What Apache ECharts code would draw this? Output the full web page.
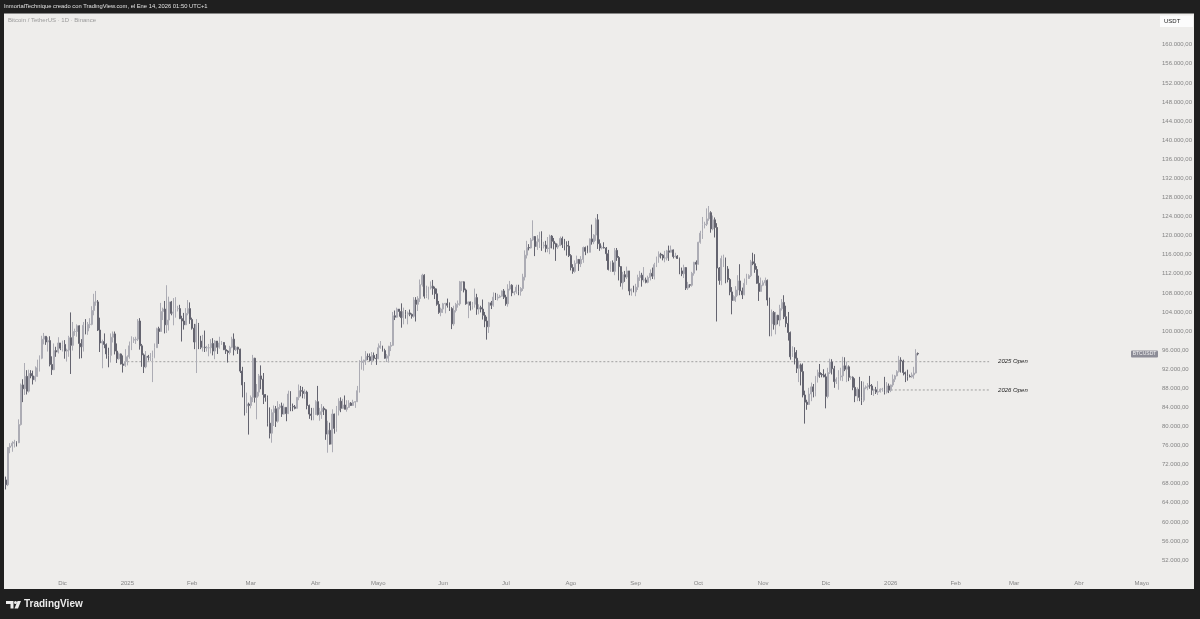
<!DOCTYPE html>
<html><head><meta charset="utf-8">
<script src="https://cdn.jsdelivr.net/npm/echarts@6/dist/echarts.min.js"></script>
<style>html,body{margin:0;padding:0;background:#1f1f1f;}#c{width:1200px;height:619px;}</style>
</head><body><div id="c"></div>
<script>
// BTCUSDT daily candles (values in thousands of USDT), 2024-11-04 .. 2026-01-14
const firstOpen = 68.8;
const closes = [
// Nov 2024 (from 4th)
67.8,75.6,75.9,76.5,76.7,76.6,80.4,88.7,87.9,90.5,87.4,91.1,90.6,89.8,90.5,92.3,94.3,98.3,98.9,97.7,98.0,93.0,91.9,95.9,95.6,97.5,96.4,
// Dec 2024
97.2,95.8,96.0,98.6,97.0,99.9,99.9,101.1,97.4,96.7,101.2,100.0,101.4,101.4,104.3,106.1,106.1,100.2,97.5,97.8,97.2,95.2,94.9,98.7,99.4,95.8,94.2,95.2,93.1,92.8,93.6,
// Jan 2025
94.6,96.9,98.1,98.2,98.3,102.1,96.9,95.0,92.5,94.7,94.5,94.5,94.5,96.5,100.5,99.9,104.1,104.6,101.3,102.3,106.1,103.7,104.0,104.7,104.7,102.6,102.1,101.3,103.7,104.7,102.4,
// Feb 2025
100.6,97.7,101.4,97.9,96.6,96.6,96.5,96.5,96.5,97.4,95.8,97.9,96.6,97.5,97.6,96.1,95.8,95.5,96.6,98.3,96.1,96.6,96.2,91.6,88.7,84.3,84.7,84.4,
// Mar 2025
86.1,94.3,86.1,87.2,90.6,89.9,86.7,86.1,80.7,78.6,82.9,83.7,81.1,84.0,84.3,82.6,84.0,82.7,86.8,84.2,84.1,83.8,86.1,87.5,87.4,86.9,87.2,84.4,82.6,82.3,82.5,
// Apr 2025
85.2,82.5,83.1,83.8,83.5,78.4,79.2,76.3,82.6,79.6,83.4,85.3,83.8,84.5,83.6,84.0,84.9,84.4,85.1,85.2,87.5,93.4,93.7,93.9,94.7,94.6,93.8,94.9,94.3,94.2,
// May 2025
96.5,96.9,95.9,94.3,94.8,96.8,97.0,103.2,102.9,104.6,104.1,102.8,104.1,103.5,103.8,103.5,103.1,106.5,105.6,106.8,109.7,111.7,107.3,107.8,109.0,109.4,108.9,107.8,105.6,103.9,104.6,
// Jun 2025
105.7,105.8,105.4,104.7,101.5,104.3,105.6,105.7,110.3,110.3,108.6,105.7,106.1,105.4,105.6,107.0,104.6,104.9,104.6,103.3,102.1,100.9,105.9,105.4,107.1,106.9,107.1,107.3,108.4,107.1,
// Jul 2025
105.7,108.8,109.6,108.0,108.2,109.2,108.3,108.9,111.3,115.9,117.5,117.4,119.1,119.8,117.7,118.7,119.3,117.8,118.0,117.3,117.4,119.9,118.8,118.3,117.6,117.9,119.4,118.1,117.9,117.8,115.8,
// Aug 2025
113.3,112.5,114.2,115.0,114.1,115.0,117.5,116.7,116.5,119.3,118.7,120.1,123.3,118.3,117.4,117.5,117.4,116.2,112.9,114.3,112.5,116.9,115.4,113.5,110.1,111.8,111.3,112.6,108.4,108.8,108.2,
// Sep 2025
109.2,111.2,111.7,110.7,110.7,110.2,111.2,112.1,111.5,113.9,115.5,116.1,115.9,115.3,115.3,116.8,116.5,117.0,115.6,115.7,115.2,112.6,112.0,113.3,109.0,109.7,109.6,112.1,114.4,114.0,
// Oct 2025
118.6,120.5,122.3,122.4,123.5,124.8,121.4,123.3,121.7,113.2,110.6,115.2,115.3,113.0,110.8,108.2,106.4,107.2,108.6,110.5,108.4,107.6,110.0,111.0,111.6,114.5,114.1,112.9,110.0,108.3,109.6,
// Nov 2025
110.1,110.6,106.5,101.5,103.9,101.3,103.3,102.3,104.7,106.0,103.0,101.6,99.7,94.6,95.5,94.3,92.2,92.9,91.5,86.6,85.1,84.6,86.8,88.3,87.3,90.5,91.3,90.9,90.8,90.4,
// Dec 2025
86.3,91.3,93.5,92.1,89.4,89.9,90.4,90.6,92.7,92.0,92.5,90.3,90.3,88.2,86.4,87.8,86.1,85.5,88.1,88.3,88.6,88.5,87.6,87.7,87.2,87.3,87.8,87.8,87.2,88.5,87.6,
// Jan 2026
88.7,89.9,90.6,91.5,93.9,93.7,91.3,91.0,90.5,90.4,90.8,91.2,95.3,95.2
];
const highs = [
69.5,75.7,76.5,76.9,77.2,76.9,81.5,89.0,89.9,93.3,91.8,91.9,91.8,91.7,92.6,94.0,94.9,99.0,99.6,98.9,98.7,98.9,94.7,97.4,96.7,98.7,97.5,
98.0,98.1,96.3,99.0,103.9,101.9,100.5,101.4,101.2,98.3,101.9,102.5,101.9,102.7,105.2,107.8,108.4,106.5,102.8,98.2,99.5,97.4,96.5,99.5,99.9,99.9,97.4,95.5,95.3,94.9,96.2,
94.9,97.8,98.9,98.7,98.8,102.5,102.7,97.3,95.3,95.8,95.0,95.4,95.9,97.4,100.7,100.9,105.9,104.9,106.3,109.6,107.2,106.3,106.9,107.1,105.3,105.5,103.2,103.8,104.8,106.5,106.0,
102.8,101.5,102.5,101.7,99.0,99.2,100.1,96.9,97.3,98.3,98.5,98.1,97.9,98.8,97.9,97.7,97.0,96.0,96.9,98.8,99.5,96.9,96.7,96.3,92.5,89.3,87.1,85.0,
86.5,95.0,94.4,88.9,91.0,92.8,91.2,86.8,86.5,84.0,83.6,84.4,84.3,85.3,84.7,85.0,84.8,84.0,87.5,87.4,84.8,84.5,86.1,88.8,88.5,88.3,87.8,87.5,84.6,83.9,83.9,
85.5,88.5,83.9,84.7,84.2,83.7,81.2,80.8,83.6,82.7,84.3,85.9,86.1,85.8,86.5,85.5,85.5,85.1,85.6,85.3,88.5,93.9,94.7,94.0,95.8,95.3,95.3,95.6,95.5,95.2,
97.4,97.9,96.9,96.3,95.2,96.9,97.7,104.0,104.3,104.9,104.6,105.8,104.9,104.4,104.1,104.5,103.7,107.1,107.1,107.3,110.8,112.0,111.9,109.5,109.3,110.4,110.7,109.3,108.9,106.3,104.9,
105.9,105.9,106.8,106.0,105.0,105.3,105.9,106.4,110.5,110.4,110.4,108.9,106.2,106.2,106.1,108.9,107.8,105.6,105.3,106.6,104.0,103.0,106.1,106.3,108.1,108.0,107.8,107.6,108.5,108.8,
107.6,109.8,110.5,109.8,108.4,109.7,109.7,109.2,112.0,116.9,118.9,118.2,119.5,123.2,119.9,120.1,120.8,120.9,118.7,118.9,119.7,120.2,120.1,119.5,118.5,118.3,119.8,119.8,119.3,118.8,118.9,
116.1,114.0,114.8,115.8,115.1,115.7,117.7,117.7,117.9,119.4,122.3,120.3,123.7,124.5,119.2,117.9,118.6,117.6,117.0,114.6,114.8,117.4,117.4,115.7,113.6,112.4,112.6,113.5,112.6,108.9,109.5,
109.9,111.8,112.6,112.2,113.4,111.2,111.6,112.9,113.3,114.3,115.6,116.7,116.4,116.1,116.8,117.0,117.9,117.9,117.1,116.4,115.9,115.4,113.3,113.9,113.4,110.3,109.8,112.4,114.5,114.8,
118.7,121.0,123.9,122.9,125.7,126.2,125.1,124.2,123.8,122.6,113.4,115.8,116.0,115.4,113.6,111.1,109.2,107.5,109.4,111.7,114.0,109.1,111.0,112.0,111.9,114.9,116.4,116.1,113.6,111.6,111.2,
110.6,111.2,110.8,107.0,104.5,104.2,104.0,103.4,105.5,106.7,107.5,105.3,104.0,99.9,96.8,96.6,96.0,93.8,93.2,93.2,87.5,85.6,88.1,89.2,88.9,90.6,91.9,93.1,91.2,92.0,
91.1,92.3,94.2,94.1,92.7,90.3,91.8,92.3,94.6,94.5,93.6,92.8,90.6,90.5,90.1,88.2,90.4,89.5,89.4,88.6,89.1,90.6,88.9,87.9,88.3,89.5,88.0,88.1,90.4,89.3,89.0,
88.8,90.9,90.8,91.8,94.8,94.5,94.0,91.5,91.9,90.9,91.3,92.5,96.2,95.5
];
const lows = [
66.8,67.5,74.4,74.7,75.6,75.8,76.5,80.2,85.1,86.6,86.7,87.1,90.1,88.8,89.4,90.4,91.5,94.1,97.2,97.1,95.7,92.6,90.8,91.8,94.6,95.3,96.0,
95.7,94.2,93.6,94.6,91.0,95.9,99.0,98.8,94.2,94.3,95.7,99.3,99.2,100.6,101.2,103.3,105.3,100.0,95.6,92.2,96.4,94.2,92.4,93.4,97.6,95.1,93.3,94.0,93.0,91.3,92.5,
92.8,94.2,96.0,97.5,97.3,97.9,96.1,92.5,91.2,92.2,93.8,93.7,89.3,94.3,96.5,97.3,99.9,102.3,99.5,99.6,100.1,103.3,101.2,102.8,104.1,102.5,97.8,100.3,101.3,103.3,101.5,
100.3,96.2,91.2,96.2,96.2,95.7,95.6,95.7,94.7,95.3,94.9,94.1,95.2,96.3,97.1,96.0,95.2,93.4,95.1,96.4,94.9,95.8,95.2,91.2,86.1,82.3,82.8,78.3,
83.8,85.1,85.0,81.5,86.3,87.8,84.7,85.2,80.0,77.5,76.6,80.1,79.9,80.8,83.6,82.0,82.5,81.1,82.6,83.2,83.2,83.6,83.8,85.5,86.3,85.9,85.8,83.6,81.6,81.3,81.3,
82.4,82.3,81.2,81.6,82.4,77.2,74.5,76.2,74.6,78.5,78.9,82.3,83.0,83.7,83.6,83.1,83.9,84.3,84.3,83.9,85.1,87.1,91.9,91.7,92.9,93.9,93.6,92.9,93.8,92.9,
94.1,96.3,95.7,94.2,93.5,93.4,95.8,96.9,102.3,102.8,103.0,100.7,101.4,102.6,101.4,103.1,102.6,102.8,102.0,104.2,106.1,109.3,106.8,106.9,106.6,108.7,107.6,106.7,105.3,103.6,103.1,
103.8,103.7,104.9,104.2,100.4,101.1,103.9,104.9,105.3,108.4,108.1,105.5,102.7,104.3,104.5,104.9,103.4,103.5,103.9,102.4,100.8,98.2,99.6,104.6,105.1,106.5,106.4,106.9,107.2,106.7,
105.3,105.1,108.5,107.3,107.5,107.8,107.5,107.4,108.4,110.6,115.2,116.9,117.3,118.9,115.7,117.0,117.4,116.8,117.3,116.5,116.5,116.1,117.3,117.1,114.7,117.2,117.8,117.4,116.9,115.8,115.5,
112.7,112.0,112.2,114.1,112.6,113.4,114.3,115.9,116.3,116.5,118.1,118.2,118.9,117.2,116.8,117.1,117.3,114.7,112.7,112.4,112.4,111.7,114.7,110.6,109.3,108.7,110.3,110.9,107.5,107.4,108.1,
107.3,108.6,110.5,109.3,110.2,110.0,110.0,110.6,110.9,110.8,113.4,114.3,115.2,114.8,114.4,114.8,114.7,116.5,115.2,115.4,115.1,111.9,111.5,111.1,108.6,108.6,109.1,109.3,111.6,112.7,
113.9,118.3,119.3,121.5,122.0,123.1,120.6,121.1,119.6,102.0,109.7,109.6,113.4,110.0,110.2,107.5,103.5,106.4,106.1,107.4,107.5,106.7,107.5,109.7,110.9,111.3,113.8,112.2,109.9,106.3,108.3,
109.4,109.5,105.3,98.9,98.9,100.3,99.3,101.4,101.0,104.3,102.5,100.8,98.0,94.0,94.6,93.0,91.2,89.3,88.6,86.1,80.6,83.5,84.6,85.3,86.1,86.3,89.2,90.2,90.3,90.3,
83.8,85.9,91.0,90.9,88.1,88.9,87.7,89.6,89.5,91.6,89.3,89.5,89.8,87.6,85.1,85.3,85.3,84.5,85.1,87.8,87.6,87.9,86.6,86.4,86.8,86.6,87.1,87.3,86.7,86.9,87.0,
87.2,88.3,89.3,90.5,91.3,91.3,90.7,89.3,89.6,90.3,90.2,90.0,91.1,94.9
];
// yearly open levels
const openLevels = [
  { name: '2025 Open', from: '2025-01-01', to: '2026-02-17', value: 93.576 },
  { name: '2026 Open', from: '2026-01-01', to: '2026-02-17', value: 87.648 }
];
const monthLabels = ['', 'Feb', 'Mar', 'Abr', 'Mayo', 'Jun', 'Jul', 'Ago', 'Sep', 'Oct', 'Nov', 'Dic'];
const startDate = Date.UTC(2024, 10, 4);
const totalDays = 546; // axis spans to early May 2026

const dates = [];
for (let i = 0; i < totalDays; i++) {
  const d = new Date(startDate + i * 86400000);
  dates.push(d.toISOString().slice(0, 10));
}
const candles = closes.map((c, i) => [i === 0 ? firstOpen : closes[i - 1], c, lows[i], highs[i]]);

function fmtPrice(v) {
  const n = Math.round(v * 1000);
  return String(n).replace(/\B(?=(\d{3})+(?!\d))/g, '.') + ',00';
}
const FONT = 'Liberation Sans, Arial, sans-serif';
const UP = '#acacb4', DOWN = '#64646f';

const chart = echarts.init(document.getElementById('c'), null, { renderer: 'canvas' });
const option = {
  animation: false,
  backgroundColor: '#1f1f1f',
  grid: { left: 5, right: 53, top: 6.5, height: 572.7 },
  xAxis: {
    type: 'category', data: dates, boundaryGap: true,
    axisLine: { show: false }, axisTick: { show: false }, splitLine: { show: false },
    axisLabel: {
      interval: (i, v) => v.slice(8) === '01',
      formatter: v => { const m = +v.slice(5, 7); return m === 1 ? v.slice(0, 4) : monthLabels[m - 1]; },
      color: '#858585', fontSize: 6, fontFamily: FONT, margin: 1
    }
  },
  yAxis: {
    type: 'value', position: 'right', min: 48, max: 168, interval: 4,
    axisLine: { show: false }, axisTick: { show: false }, splitLine: { show: false },
    axisLabel: {
      formatter: v => (v < 52 || v > 160) ? '' : fmtPrice(v),
      color: '#858585', fontSize: 6, fontFamily: FONT, margin: 15, align: 'left'
    }
  },
  series: [
    {
      type: 'candlestick', data: candles, barWidth: 1.4,
      itemStyle: { color: UP, color0: DOWN, borderColor: UP, borderColor0: DOWN, borderWidth: 1 }
    }
  ].concat(openLevels.map(l => ({
    type: 'line', name: l.name, data: [[l.from, l.value], [l.to, l.value]],
    symbol: 'none', z: 1,
    lineStyle: { color: '#8c8c8c', width: 0.8, type: [2, 2] },
    endLabel: { show: true, formatter: l.name, distance: 9, color: '#222', fontSize: 6, fontStyle: 'italic', fontFamily: FONT }
  }))),
  graphic: [
    { type: 'rect', z: -10, silent: true, shape: { x: 4, y: 13.5, width: 1190, height: 575.5 }, style: { fill: '#eeedeb' } },
    { type: 'text', z: 100, left: 4, top: 3, style: { text: 'InmortalTechnique creado con TradingView.com, el Ene 14, 2026 01:50 UTC+1', fill: '#e2e2e2', fontSize: 5.8, fontFamily: FONT } },
    { type: 'text', z: 100, left: 8, top: 17, style: { text: 'Bitcoin / TetherUS · 1D · Binance', fill: '#9a9a9a', fontSize: 6, fontFamily: FONT } },
    { type: 'rect', z: 100, shape: { x: 1160, y: 15.5, width: 33, height: 11.5 }, style: { fill: '#fcfcfc' } },
    { type: 'text', z: 101, left: 1164, top: 18, style: { text: 'USDT', fill: '#222', fontSize: 6, fontFamily: FONT } },
    // TradingView logo
    { type: 'polygon', z: 100, shape: { points: [[6, 601], [13.5, 601], [13.5, 608.5], [10.5, 608.5], [10.5, 604], [6, 604]] }, style: { fill: '#ececec' } },
    { type: 'circle', z: 100, shape: { cx: 15.5, cy: 602.5, r: 1.5 }, style: { fill: '#ececec' } },
    { type: 'polygon', z: 100, shape: { points: [[17.5, 601], [21, 601], [18, 608.5], [14.5, 608.5]] }, style: { fill: '#ececec' } },
    { type: 'text', z: 100, left: 24, top: 599.5, style: { text: 'TradingView', fill: '#ececec', fontSize: 10, fontWeight: 'bold', fontFamily: FONT } }
  ]
};
chart.setOption(option);
// Symbol tag on the price scale, placed at the last close through the axis scale
const lastY = chart.convertToPixel({ yAxisIndex: 0 }, closes[closes.length - 1]);
chart.setOption({
  graphic: option.graphic.concat([
    { type: 'rect', z: 100, shape: { x: 1131, y: lastY - 3.5, width: 27, height: 7, r: 1 }, style: { fill: '#8d8d97' } },
    { type: 'text', z: 101, x: 1144.5, y: lastY, style: { text: 'BTCUSDT', fill: '#f4f4f4', fontSize: 5, fontFamily: FONT, align: 'center', verticalAlign: 'middle' } }
  ])
});
</script></body></html>
